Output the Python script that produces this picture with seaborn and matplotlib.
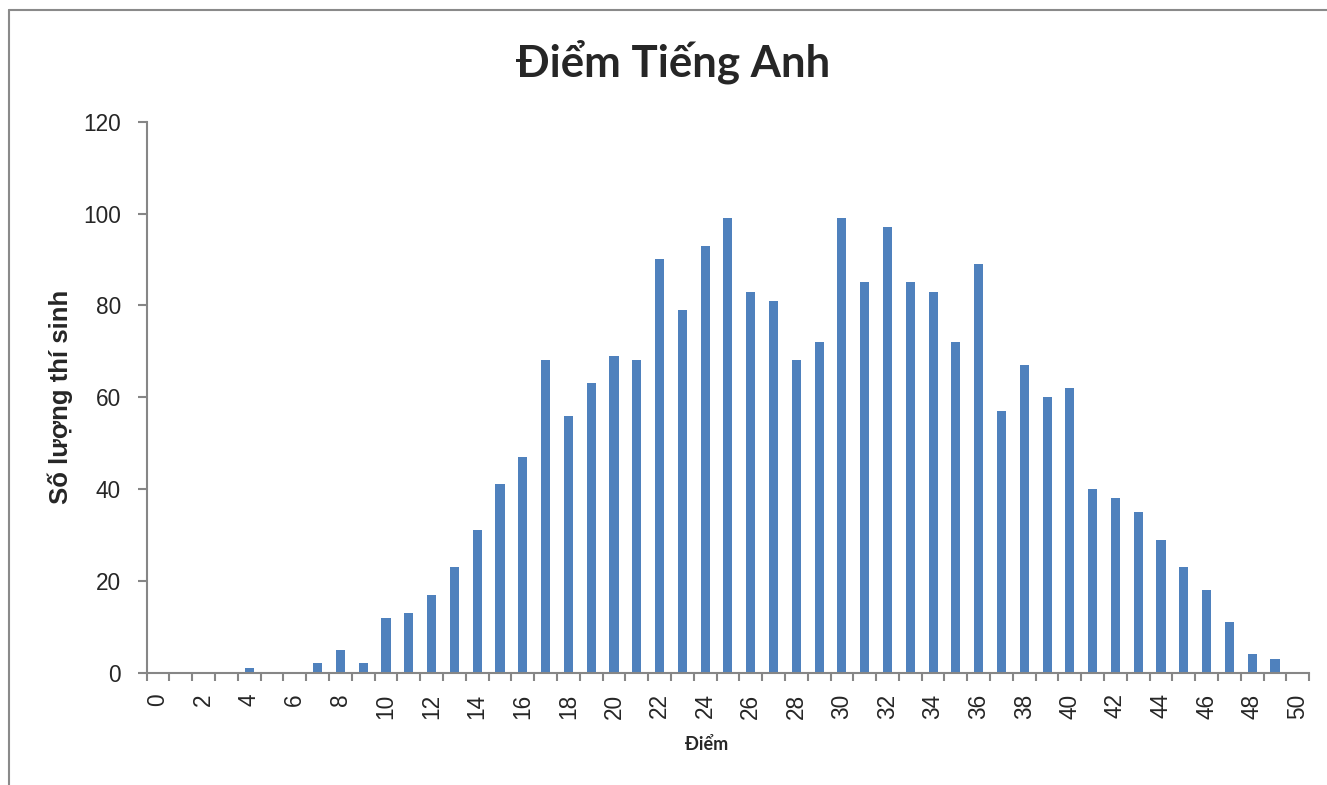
import matplotlib.pyplot as plt
import matplotlib.lines as mlines
import numpy as np
import seaborn as sns

# data
scores = list(range(0, 51))
counts = [0, 0, 0, 0, 1, 0, 0, 2, 5, 2,
          12, 13, 17, 23, 31, 41, 47, 68, 56, 63,
          69, 68, 90, 79, 93, 99, 83, 81, 68, 72,
          99, 85, 97, 85, 83, 72, 89, 57, 67, 60,
          62, 40, 38, 35, 29, 23, 18, 11, 4, 3,
          0]
xtick_vals = list(range(0, 51, 2))
ytick_vals = [0, 20, 40, 60, 80, 100, 120]

title = 'Điểm Tiếng Anh'
xlabel = 'Điểm'
ylabel = 'Số lượng thí sinh'

sns.set_style('white')
plt.rcParams['font.family'] = ['Liberation Sans', 'DejaVu Sans']

grey = '#868686'
fig = plt.figure(figsize=(13.27, 7.85), dpi=100)
ax = fig.add_axes([0.1105, 0.1431, 0.8761, 0.7019])

sns.barplot(x=scores, y=counts, color='#4F81BD', saturation=1, width=0.4,
            linewidth=0, ax=ax)

ax.set_xlim(-0.5, 50.5)
ax.set_ylim(0, 120)
ax.set_xticks(xtick_vals)
ax.set_xticklabels([str(v) for v in xtick_vals], rotation=90, fontsize=16.3)
ax.set_xticks(np.arange(-0.5, 51, 1), minor=True)
ax.tick_params(axis='x', which='major', length=0, pad=15)
ax.tick_params(axis='x', which='minor', length=6, width=1.5, color=grey,
               direction='out', bottom=True)
ax.set_yticks(ytick_vals)
ax.set_yticklabels([str(v) for v in ytick_vals], fontsize=16.3)
ax.tick_params(axis='y', length=6.5, width=1.5, color=grey, direction='out',
               left=True, pad=12)

for s in ['top', 'right']:
    ax.spines[s].set_visible(False)
for s in ['left', 'bottom']:
    ax.spines[s].set_color(grey)
    ax.spines[s].set_linewidth(1.5)

ax.set_xlabel(xlabel, fontsize=13, fontweight='bold', family=['Lato', 'DejaVu Sans'])
ax.xaxis.set_label_coords(0.482, -0.115)
ax.set_ylabel(ylabel, fontsize=18.5, fontweight='bold')
ax.yaxis.set_label_coords(-0.063, 0.5)

fig.text(0.5075, 0.921, title, ha='center', va='center', fontsize=31.5,
         fontweight='bold', family=['Lato', 'DejaVu Sans'])

# outer chart frame (left and top edges visible)
fig.add_artist(mlines.Line2D([8.5 / 1327, 8.5 / 1327], [0, 1 - 9.5 / 785],
                             transform=fig.transFigure, color='#8a8a8a', lw=1.5))
fig.add_artist(mlines.Line2D([8.5 / 1327, 1], [1 - 9.5 / 785, 1 - 9.5 / 785],
                             transform=fig.transFigure, color='#8a8a8a', lw=1.5))

fig.savefig('out.png', dpi=100)
